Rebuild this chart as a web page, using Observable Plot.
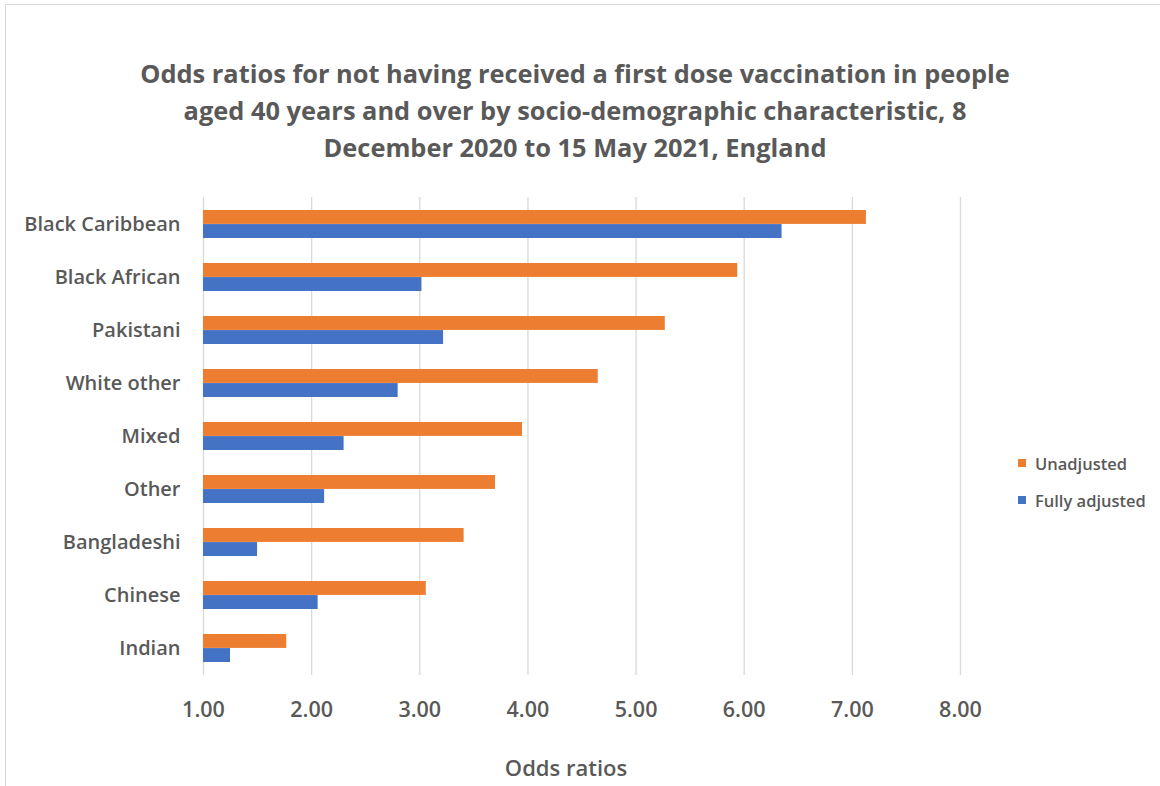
<!DOCTYPE html>
<html>
<head>
<meta charset="utf-8">
<script src="https://cdn.jsdelivr.net/npm/d3@7"></script>
<script src="https://cdn.jsdelivr.net/npm/@observablehq/plot@0.6"></script>
<style>
  body { margin: 0; background: #fff; }
  #chart { position: relative; width: 1160px; height: 786px; overflow: hidden;
           font-family: "Open Sans", "Noto Sans", sans-serif; color: #595959; background: #fff; }
  #frame { position: absolute; left: 5px; top: 4px; right: -10px; bottom: -10px;
           border-left: 1px solid #d9d9d9; border-top: 1px solid #d9d9d9; }
  #plot { position: absolute; left: 0; top: 0; }
  #title { position: absolute; left: 0; width: 1150px; top: 55px; text-align: center;
           font-weight: 700; font-size: 25.4px; line-height: 37px; }
  #xtitle { position: absolute; left: 366px; width: 400px; top: 752px; text-align: center;
            font-weight: 600; font-size: 22px; line-height: 30px; }
  #legend { position: absolute; left: 1018px; top: 450px; font-weight: 600; font-size: 16.5px; }
  .item { display: flex; align-items: center; height: 26px; margin-bottom: 11px; }
  .swatch { width: 8px; height: 8px; margin-right: 9px; }
</style>
</head>
<body>
<div id="chart">
  <div id="frame"></div>
  <div id="plot"></div>
  <div id="title">Odds ratios for not having received a first dose vaccination in people<br>aged 40 years and over by socio-demographic characteristic, 8<br>December 2020 to 15 May 2021, England</div>
  <div id="xtitle">Odds ratios</div>
  <div id="legend"></div>
</div>
<script>
// Ethnic groups, top to bottom
const categories = ["Black Caribbean", "Black African", "Pakistani", "White other", "Mixed",
                    "Other", "Bangladeshi", "Chinese", "Indian"];
// Odds ratios for each group
const unadjusted    = [7.13, 5.94, 5.27, 4.65, 3.95, 3.70, 3.41, 3.06, 1.77];
const fullyAdjusted = [6.35, 3.02, 3.22, 2.80, 2.30, 2.12, 1.50, 2.06, 1.25];
// Axis ticks and reference value (odds ratio of 1)
const xTicks = [1, 2, 3, 4, 5, 6, 7, 8];
const baseline = 1;
const seriesNames = ["Unadjusted", "Fully adjusted"];
const seriesColors = ["#ED7D31", "#4472C4"];

const rows = categories.map((c, i) => ({category: c, unadjusted: unadjusted[i], fully: fullyAdjusted[i]}));

const W = 1160, H = 786, mTop = 197, mBottom = 111, mLeft = 203, mRight = 200;
const padInner = 0.47;
const step = (H - mTop - mBottom) / categories.length;
const half = step * (1 - padInner) / 2;

const chart = Plot.plot({
  width: W, height: H,
  marginTop: mTop, marginBottom: mBottom, marginLeft: mLeft, marginRight: mRight,
  style: {fontFamily: "'Open Sans', 'Noto Sans', sans-serif", color: "#595959", background: "transparent", overflow: "visible"},
  x: {domain: [xTicks[0], xTicks[xTicks.length - 1]], label: null},
  y: {domain: categories, paddingInner: padInner, paddingOuter: padInner / 2, label: null},
  marks: [
    Plot.gridX(xTicks, {stroke: "#d9d9d9", strokeOpacity: 1, strokeWidth: 1.3}),
    Plot.barX(rows, {y: "category", x1: () => baseline, x2: "unadjusted", fill: seriesColors[0], insetBottom: half}),
    Plot.barX(rows, {y: "category", x1: () => baseline, x2: "fully", fill: seriesColors[1], insetTop: half}),
    Plot.axisX(xTicks, {tickSize: 0, tickPadding: 26, fontSize: 21.5, fontWeight: 600,
                        tickFormat: d => d.toFixed(2), label: null}),
    Plot.axisY({tickSize: 0, tickPadding: 23, fontSize: 20, fontWeight: 600, label: null})
  ]
});
document.getElementById("plot").appendChild(chart);

const legend = d3.select("#legend");
seriesNames.forEach((name, i) => {
  const item = legend.append("div").attr("class", "item");
  item.append("div").attr("class", "swatch").style("background", seriesColors[i]);
  item.append("span").text(name);
});
</script>
</body>
</html>
